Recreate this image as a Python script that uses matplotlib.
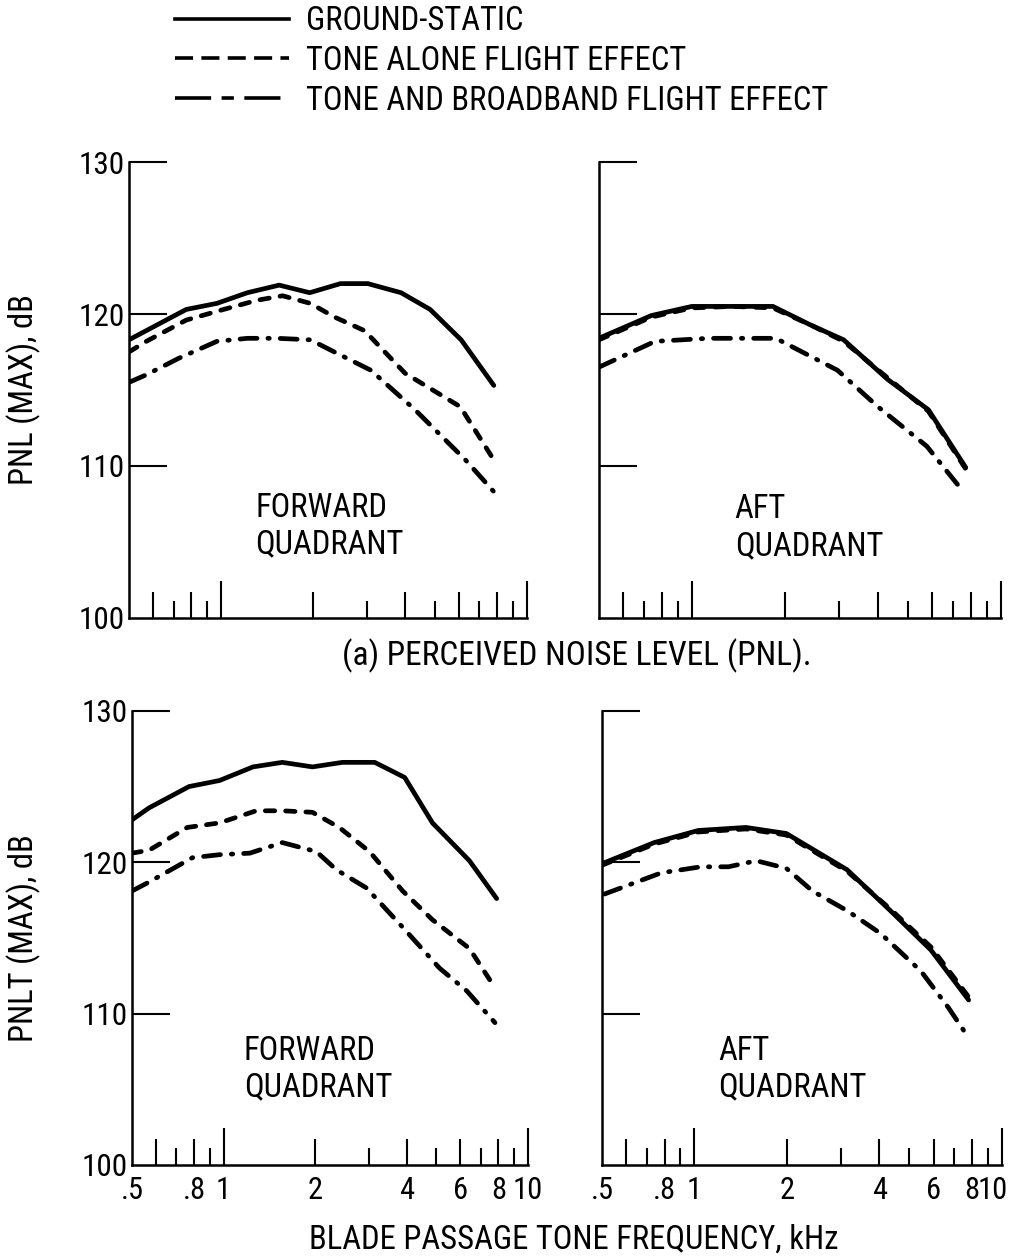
import matplotlib
matplotlib.use("Agg")
import matplotlib.pyplot as plt
import matplotlib.transforms as mtransforms
from matplotlib.lines import Line2D
from matplotlib.ticker import NullLocator

plt.rcParams['font.family'] = ['Roboto Condensed', 'Noto Sans Condensed', 'Liberation Sans', 'DejaVu Sans']

# ====== data: (a) PNL, forward quadrant ======
fwd_pnl_f_gs = [0.5, 0.77, 0.97, 1.22, 1.55, 1.95, 2.46, 3.02, 3.88, 4.83, 6.1, 7.8]
fwd_pnl_gs = [118.3, 120.3, 120.7, 121.4, 121.9, 121.4, 122.0, 122.0, 121.4, 120.3, 118.3, 115.3]
fwd_pnl_f_tone = [0.5, 0.57, 0.77, 1.02, 1.31, 1.59, 1.96, 2.35, 2.95, 4.0, 6.06, 7.8]
fwd_pnl_tone = [117.5, 118.2, 119.6, 120.3, 120.9, 121.2, 120.7, 119.8, 118.9, 116.1, 113.9, 110.4]
fwd_pnl_f_bb = [0.5, 0.57, 0.73, 0.97, 1.22, 1.53, 1.96, 2.35, 3.09, 4.31, 6.3, 7.97]
fwd_pnl_bb = [115.5, 116.0, 117.1, 118.2, 118.4, 118.4, 118.3, 117.5, 116.3, 113.7, 110.4, 108.1]

# ====== data: (a) PNL, aft quadrant ======
aft_pnl_f_gs = [0.5, 0.74, 1.0, 1.35, 1.83, 2.41, 3.1, 4.3, 5.83, 7.7]
aft_pnl_gs = [118.4, 119.9, 120.5, 120.5, 120.5, 119.3, 118.3, 115.7, 113.7, 109.9]
aft_pnl_tone = [118.3, 119.8, 120.4, 120.5, 120.4, 119.3, 118.2, 115.8, 113.6, 109.8]
aft_pnl_f_bb = [0.5, 0.76, 1.13, 1.87, 2.96, 4.0, 5.76, 7.5]
aft_pnl_bb = [116.5, 118.2, 118.4, 118.4, 116.3, 113.9, 111.3, 108.4]

# ====== data: PNLT, forward quadrant ======
fwd_pnlt_f_gs = [0.5, 0.57, 0.77, 0.97, 1.25, 1.56, 1.96, 2.46, 3.14, 3.94, 4.86, 6.43, 7.9]
fwd_pnlt_gs = [122.8, 123.6, 125.0, 125.4, 126.3, 126.6, 126.3, 126.6, 126.6, 125.6, 122.6, 120.1, 117.6]
fwd_pnlt_f_tone = [0.5, 0.57, 0.76, 0.97, 1.28, 1.56, 1.96, 2.4, 3.02, 3.88, 4.86, 6.43, 7.8]
fwd_pnlt_tone = [120.6, 120.8, 122.3, 122.6, 123.4, 123.4, 123.3, 122.3, 120.7, 118.1, 116.2, 114.3, 111.7]
fwd_pnlt_f_bb = [0.5, 0.57, 0.79, 0.97, 1.22, 1.56, 2.02, 2.35, 2.95, 3.88, 5.13, 6.3, 7.8]
fwd_pnlt_bb = [118.1, 118.7, 120.3, 120.5, 120.6, 121.3, 120.7, 119.5, 118.3, 115.7, 113.0, 111.5, 109.4]

# ====== data: PNLT, aft quadrant ======
aft_pnlt_f_gs = [0.5, 0.74, 1.03, 1.47, 1.99, 3.14, 4.34, 5.88, 7.8]
aft_pnlt_gs = [119.9, 121.3, 122.1, 122.3, 121.9, 119.5, 116.8, 114.2, 110.9]
aft_pnlt_tone = [119.8, 121.2, 122.0, 122.2, 121.8, 119.4, 116.9, 114.4, 111.1]
aft_pnlt_f_bb = [0.51, 0.78, 1.05, 1.29, 1.59, 1.99, 2.42, 3.14, 4.03, 5.46, 6.7, 7.8]
aft_pnlt_bb = [117.9, 119.3, 119.7, 119.7, 120.1, 119.6, 118.1, 116.8, 115.3, 112.8, 110.4, 108.4]

# ticks
xtick_pos = [0.5, 0.6, 0.7, 0.8, 0.9, 1, 2, 3, 4, 5, 6, 7, 8, 9, 10]
xtick_lab = ['.5', '', '', '.8', '', '1', '2', '', '4', '', '6', '', '8', '', '10']
xtick_len = [0, 19, 12, 19, 12, 26.5, 19, 12, 19, 12, 19, 12, 19, 12, 26.5]
ytick_pos = [100, 110, 120, 130]
ytick_lab = ['100', '110', '120', '130']
series_labels = ['GROUND-STATIC', 'TONE ALONE FLIGHT EFFECT', 'TONE AND BROADBAND FLIGHT EFFECT']

LW = 3.4
DASH = (0, (2.0, 2.3))
DASHDOT = (0, (3.6, 2.3, 0.3, 2.3))

fig = plt.figure(figsize=(10.15, 12.56), dpi=100)
ax_tl = fig.add_axes([0.127, 0.508, 0.392, 0.363])
ax_tr = fig.add_axes([0.590, 0.508, 0.396, 0.363])
ax_bl = fig.add_axes([0.130, 0.0725, 0.390, 0.3615])
ax_br = fig.add_axes([0.593, 0.0725, 0.394, 0.3615])


def style_axes(ax, xlabels, ylabels):
    ax.set_xscale('log')
    ax.set_xlim(0.5, 10)
    ax.set_ylim(100, 130)
    ax.spines['top'].set_visible(False)
    ax.spines['right'].set_visible(False)
    for s in ['left', 'bottom']:
        ax.spines[s].set_linewidth(1.8)
    ax.set_xticks(xtick_pos)
    ax.set_xticklabels(xtick_lab if xlabels else [''] * len(xtick_pos))
    ax.xaxis.set_minor_locator(NullLocator())
    ax.set_yticks(ytick_pos)
    ax.set_yticklabels(ytick_lab if ylabels else [''] * len(ytick_pos))
    ax.yaxis.set_minor_locator(NullLocator())
    ax.tick_params(axis='x', direction='in', width=1.5, pad=8, labelsize=22)
    ax.tick_params(axis='y', direction='in', width=1.5, length=27.5, pad=3, labelsize=22.5)
    for t, L in zip(ax.xaxis.get_major_ticks(), xtick_len):
        t.tick1line.set_markersize(L)
    ax.yaxis.get_major_ticks()[0].tick1line.set_markersize(0)


def draw(ax, f_gs, gs, f_tone, tone, f_bb, bb):
    ax.plot(f_gs, gs, color='black', lw=LW, solid_capstyle='round')
    ax.plot(f_tone, tone, color='black', lw=LW, linestyle=DASH, dash_capstyle='round')
    ax.plot(f_bb, bb, color='black', lw=LW, linestyle=DASHDOT, dash_capstyle='round')


draw(ax_tl, fwd_pnl_f_gs, fwd_pnl_gs, fwd_pnl_f_tone, fwd_pnl_tone, fwd_pnl_f_bb, fwd_pnl_bb)
draw(ax_tr, aft_pnl_f_gs, aft_pnl_gs, aft_pnl_f_gs, aft_pnl_tone, aft_pnl_f_bb, aft_pnl_bb)
draw(ax_bl, fwd_pnlt_f_gs, fwd_pnlt_gs, fwd_pnlt_f_tone, fwd_pnlt_tone, fwd_pnlt_f_bb, fwd_pnlt_bb)
draw(ax_br, aft_pnlt_f_gs, aft_pnlt_gs, aft_pnlt_f_gs, aft_pnlt_tone, aft_pnlt_f_bb, aft_pnlt_bb)

style_axes(ax_tl, False, True)
style_axes(ax_tr, False, False)
style_axes(ax_bl, True, True)
style_axes(ax_br, True, False)

# "10" on the right panel sits a little left of its tick, like the original
lab10 = ax_br.xaxis.get_major_ticks()[-1].label1
lab10.set_transform(lab10.get_transform() + mtransforms.ScaledTranslation(-9 / 100, 0, fig.dpi_scale_trans))

# quadrant labels
txt_kw = dict(fontsize=23.5, ha='left', va='top', linespacing=1.2)
ax_tl.text(0.317, 0.277, 'FORWARD\nQUADRANT', transform=ax_tl.transAxes, **txt_kw)
ax_tr.text(0.338, 0.274, 'AFT\nQUADRANT', transform=ax_tr.transAxes, **txt_kw)
ax_bl.text(0.283, 0.287, 'FORWARD\nQUADRANT', transform=ax_bl.transAxes, **txt_kw)
ax_br.text(0.290, 0.287, 'AFT\nQUADRANT', transform=ax_br.transAxes, **txt_kw)

ax_tl.set_ylabel('PNL (MAX), dB', fontsize=23.5)
ax_bl.set_ylabel('PNLT (MAX), dB', fontsize=23.5)
ax_tl.yaxis.set_label_coords(-0.222, 0.5)
ax_bl.yaxis.set_label_coords(-0.230, 0.5)

fig.text(0.568, 0.478, '(a) PERCEIVED NOISE LEVEL (PNL).', fontsize=24, ha='center', va='center')
fig.text(0.565, 0.013, 'BLADE PASSAGE TONE FREQUENCY, kHz', fontsize=23.5, ha='center', va='center')

# legend keys, drawn thinner like the original key
handles = [Line2D([], [], color='black', lw=2.6),
           Line2D([], [], color='black', lw=2.6, linestyle=(0, (5.0, 2.3))),
           Line2D([], [], color='black', lw=2.6, linestyle=(0, (10.0, 2.9, 3.4, 2.9)))]
fig.legend(handles, series_labels, loc='upper left', bbox_to_anchor=(0.172, 0.996), frameon=False,
           fontsize=23.5, handlelength=3.5, handletextpad=0.52, labelspacing=0.24,
           borderpad=0, borderaxespad=0)

fig.savefig('out.png', dpi=100)
